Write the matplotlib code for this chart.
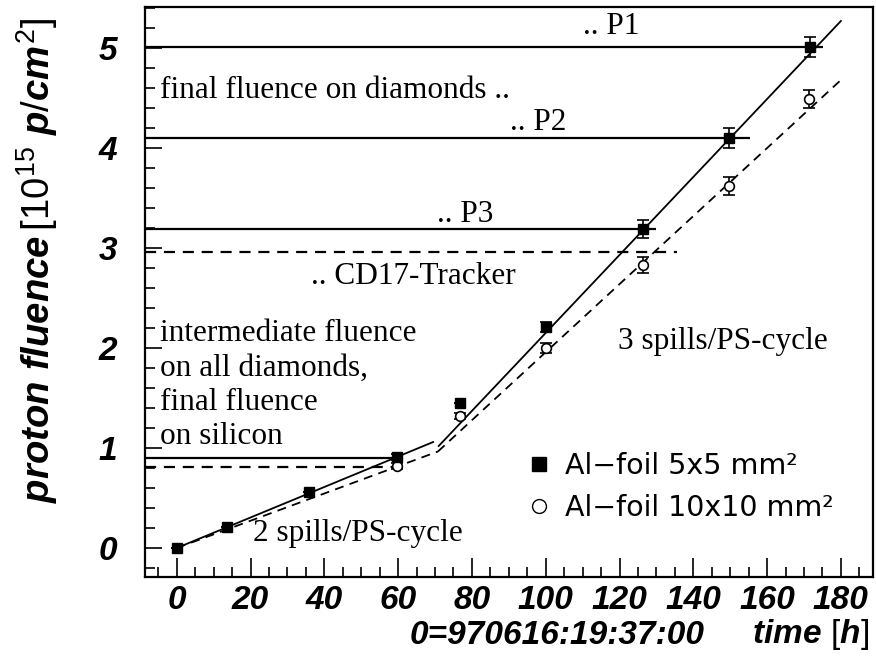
import matplotlib
matplotlib.use("Agg")
import matplotlib.pyplot as plt
from matplotlib.lines import Line2D
from matplotlib.ticker import MultipleLocator

plt.rcParams['font.family'] = 'Liberation Sans'
plt.rcParams['mathtext.fontset'] = 'custom'
plt.rcParams['mathtext.rm'] = 'Liberation Sans'
plt.rcParams['mathtext.it'] = 'Liberation Sans:bold:italic'
plt.rcParams['mathtext.bf'] = 'Liberation Sans:bold'

# Al-foil 5x5 mm^2 (filled squares)
t_sq = [0, 13.5, 35.9, 59.8, 76.8, 100, 126.3, 149.8, 171.6]
f_sq = [0, 0.21, 0.56, 0.91, 1.45, 2.21, 3.19, 4.10, 5.01]
e_sq = [0, 0, 0, 0.03, 0, 0.05, 0.09, 0.10, 0.10]

# Al-foil 10x10 mm^2 (open circles)
t_ci = [59.8, 76.8, 100, 126.3, 149.8, 171.4]
f_ci = [0.82, 1.32, 2.00, 2.83, 3.62, 4.49]
e_ci = [0.03, 0.03, 0.05, 0.08, 0.09, 0.09]

# fitted lines (two irradiation phases)
fit_sq_1 = ([0, 69.5], [0, 1.06])
fit_sq_2 = ([71, 180], [1.02, 5.27])
fit_ci_1 = ([0, 70.8], [0, 0.965])
fit_ci_2 = ([70.8, 180], [0.965, 4.68])

# reached fluences
h_solid_y = [5.013, 4.097, 3.187, 0.903]
h_solid_end = [175.2, 155.3, 129.9, 60]
h_dash_y = [2.963, 0.813]
h_dash_end = [135.5, 60]

xlim = (-8.6, 188.7)
ylim = (-0.29, 5.41)

fig = plt.figure(figsize=(8.76, 6.6), dpi=100)
ax = fig.add_axes([145/876, 1-577/660, 728/876, 570/660])
ax.set_xlim(*xlim)
ax.set_ylim(*ylim)

dash = (0, (5, 3.5))
lw = 1.3
ax.plot(*fit_sq_1, color='k', lw=lw)
ax.plot(*fit_sq_2, color='k', lw=lw)
ax.plot(*fit_ci_1, color='k', lw=lw, ls=dash)
ax.plot(*fit_ci_2, color='k', lw=lw, ls=dash)

ax.hlines(h_solid_y, xlim[0], h_solid_end, color='k', lw=1.6)
ax.hlines(h_dash_y, xlim[0], h_dash_end, color='k', lw=1.6, linestyles=dash)

ax.errorbar(t_ci, f_ci, yerr=e_ci, fmt='o', mfc='white', mec='k', mew=1.2,
            ms=7, ecolor='k', elinewidth=1.2, capsize=4, capthick=1.2, zorder=3)
ax.errorbar(t_sq, f_sq, yerr=e_sq, fmt='s', color='k', ms=7.5,
            ecolor='k', elinewidth=1.2, capsize=4, capthick=1.2, zorder=4)

serif = 'Liberation Serif'
fs = 22.5
ax.text(110, 5.22, '.. P1', family=serif, fontsize=fs, va='center')
ax.text(-4.5, 4.58, 'final fluence on diamonds ..', family=serif, fontsize=fs, va='center')
ax.text(90.3, 4.25, '.. P2', family=serif, fontsize=fs, va='center')
ax.text(70.5, 3.34, '.. P3', family=serif, fontsize=fs, va='center')
ax.text(36.5, 2.71, '.. CD17-Tracker', family=serif, fontsize=fs, va='center')
ax.text(-4.5, 2.29, 'intermediate fluence\non all diamonds,\nfinal fluence\non silicon',
        family=serif, fontsize=fs, va='top', linespacing=1.25)
ax.text(119.5, 2.07, '3 spills/PS-cycle', family=serif, fontsize=fs, va='center')
ax.text(20.7, 0.15, '2 spills/PS-cycle', family=serif, fontsize=fs, va='center')

handles = [Line2D([], [], ls='none', marker='s', color='k', ms=10),
           Line2D([], [], ls='none', marker='o', mfc='white', mec='k', mew=1.0, ms=10)]
ax.legend(handles, ['Al\u2212foil 5x5 mm\u00b2', 'Al\u2212foil 10x10 mm\u00b2'],
          loc='upper left', bbox_to_anchor=(0.51, 0.24), frameon=False,
          prop={'family': 'DejaVu Sans', 'size': 20.5},
          handlelength=0.8, handletextpad=0.5, labelspacing=0.5,
          borderaxespad=0)

# ticks
ax.xaxis.set_major_locator(MultipleLocator(20))
ax.xaxis.set_minor_locator(MultipleLocator(5))
ax.yaxis.set_major_locator(MultipleLocator(1))
ax.yaxis.set_minor_locator(MultipleLocator(0.2))
ax.tick_params(axis='both', which='both', direction='in', top=False, right=False,
               width=1.2, color='k')
ax.tick_params(axis='x', which='major', length=14, pad=6)
ax.tick_params(axis='x', which='minor', length=7)
ax.tick_params(axis='y', which='major', length=12, pad=20)
ax.tick_params(axis='y', which='minor', length=7)
for lab in ax.get_xticklabels() + ax.get_yticklabels():
    lab.set_fontsize(24)
    lab.set_fontweight('bold')
    lab.set_fontstyle('italic')
for sp in ax.spines.values():
    sp.set_linewidth(1.6)

fig.text(37/876, 1-260/660, r'$\mathit{proton\ fluence}\,[\mathit{10^{15}\ p/cm^{2}}]$',
         rotation=90, ha='center', va='center', fontsize=27.5)
fig.text(410/876, 1-635/660, '0=970616:19:37:00', fontsize=24, fontweight='bold',
         fontstyle='italic', ha='left', va='center')
fig.text(869/876, 1-635/660, r'$\mathit{time}\ [\mathit{h}]$', fontsize=24,
         ha='right', va='center')

fig.savefig('out.png', dpi=100)
